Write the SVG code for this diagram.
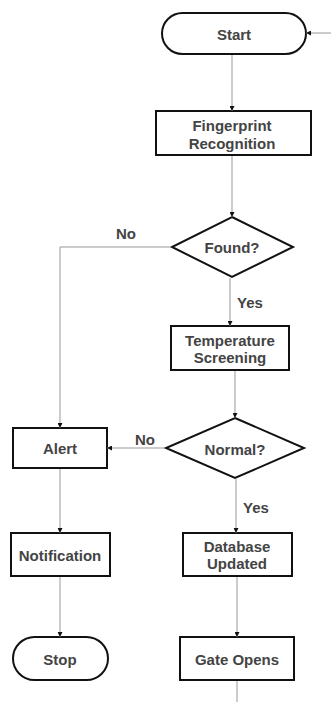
<svg xmlns="http://www.w3.org/2000/svg" width="331" height="702" viewBox="0 0 331 702">
<defs>
<marker id="ah" viewBox="0 0 10 10" refX="10" refY="5" markerWidth="5" markerHeight="5" orient="auto" markerUnits="userSpaceOnUse">
<path d="M0,0 L10,5 L0,10 Z" fill="#111"/>
</marker>
</defs>
<style>
.box{fill:#fff;stroke:#111;stroke-width:2}
.t{font-family:"Liberation Sans",Arial,sans-serif;font-weight:bold;font-size:15px;fill:#444;text-anchor:middle;dominant-baseline:central}
.c{fill:none;stroke:#999;stroke-width:1}
.ca{fill:none;stroke:#999;stroke-width:1;marker-end:url(#ah)}
</style>
<rect width="331" height="702" fill="#fff"/>
<g id="start">
<rect class="box" x="162" y="13" width="144" height="41" rx="20.5"/>
<text class="t" x="234" y="34">Start</text>
</g>
<g id="fingerprint">
<rect class="box" x="156" y="111" width="155" height="44"/>
<text class="t" x="232" y="125">Fingerprint</text>
<text class="t" x="232" y="143">Recognition</text>
</g>
<g id="found">
<polygon class="box" points="232,217 293,247 232,277 172,247"/>
<text class="t" x="232" y="247">Found?</text>
</g>
<g id="temperature">
<rect class="box" x="171" y="326" width="118" height="44"/>
<text class="t" x="230" y="340">Temperature</text>
<text class="t" x="230" y="357">Screening</text>
</g>
<g id="normal">
<polygon class="box" points="235,418 304,448 235,478 166,448"/>
<text class="t" x="235" y="449">Normal?</text>
</g>
<g id="alert">
<rect class="box" x="13" y="428" width="94" height="40"/>
<text class="t" x="60" y="448">Alert</text>
</g>
<g id="database">
<rect class="box" x="183" y="533" width="109" height="43"/>
<text class="t" x="237" y="546">Database</text>
<text class="t" x="237" y="563">Updated</text>
</g>
<g id="notification">
<rect class="box" x="11" y="533" width="99" height="43"/>
<text class="t" x="60" y="555">Notification</text>
</g>
<g id="stop">
<rect class="box" x="13" y="637" width="95" height="43" rx="21.5"/>
<text class="t" x="60" y="659">Stop</text>
</g>
<g id="gate">
<rect class="box" x="180" y="637" width="114" height="43"/>
<text class="t" x="237" y="659">Gate Opens</text>
</g>
<g id="connectors">
<path class="ca" d="M331,33 L306,33"/>
<path class="ca" d="M232,55 L232,111"/>
<path class="ca" d="M232,156 L232,217"/>
<path class="ca" d="M171,247 L60,247 L60,428"/>
<path class="ca" d="M230,278 L230,326"/>
<path class="ca" d="M235,371 L235,418"/>
<path class="ca" d="M165,448 L107,448"/>
<path class="ca" d="M236,479 L236,533"/>
<path class="ca" d="M60,469 L60,533"/>
<path class="ca" d="M60,577 L60,637"/>
<path class="ca" d="M237,577 L237,637"/>
<path class="c" d="M237,681 L237,702"/>
<text class="t" x="126" y="233">No</text>
<text class="t" x="250" y="302">Yes</text>
<text class="t" x="145" y="439">No</text>
<text class="t" x="256" y="507">Yes</text>
</g>
</svg>
